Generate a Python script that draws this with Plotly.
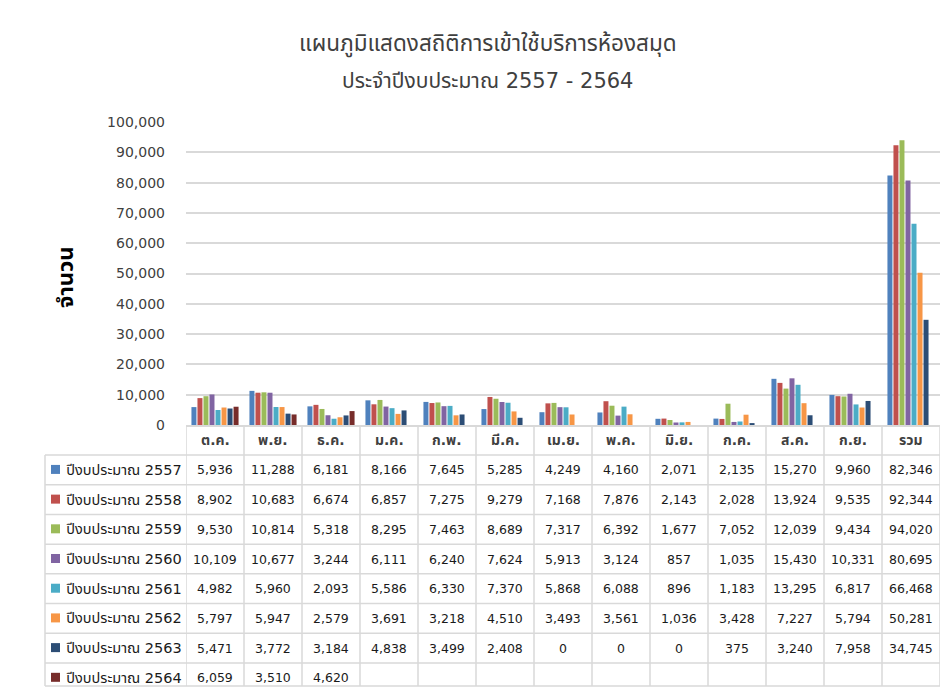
import plotly.graph_objects as go

W, H = 952, 694
# empirical vertical mapping of the captured picture: img_y = A + S * page_y
A, S = 7.9, 0.977

categories = ["ต.ค.", "พ.ย.", "ธ.ค.", "ม.ค.", "ก.พ.", "มี.ค.", "เม.ย.", "พ.ค.", "มิ.ย.", "ก.ค.", "ส.ค.", "ก.ย.", "รวม"]

series_names = ["ปีงบประมาณ 2557", "ปีงบประมาณ 2558", "ปีงบประมาณ 2559", "ปีงบประมาณ 2560",
                "ปีงบประมาณ 2561", "ปีงบประมาณ 2562", "ปีงบประมาณ 2563", "ปีงบประมาณ 2564"]

y2557 = [5936, 11288, 6181, 8166, 7645, 5285, 4249, 4160, 2071, 2135, 15270, 9960, 82346]
y2558 = [8902, 10683, 6674, 6857, 7275, 9279, 7168, 7876, 2143, 2028, 13924, 9535, 92344]
y2559 = [9530, 10814, 5318, 8295, 7463, 8689, 7317, 6392, 1677, 7052, 12039, 9434, 94020]
y2560 = [10109, 10677, 3244, 6111, 6240, 7624, 5913, 3124, 857, 1035, 15430, 10331, 80695]
y2561 = [4982, 5960, 2093, 5586, 6330, 7370, 5868, 6088, 896, 1183, 13295, 6817, 66468]
y2562 = [5797, 5947, 2579, 3691, 3218, 4510, 3493, 3561, 1036, 3428, 7227, 5794, 50281]
y2563 = [5471, 3772, 3184, 4838, 3499, 2408, 0, 0, 0, 375, 3240, 7958, 34745]
y2564 = [6059, 3510, 4620, None, None, None, None, None, None, None, None, None, None]

series_values = [y2557, y2558, y2559, y2560, y2561, y2562, y2563, y2564]
colors = ["#4F81BD", "#C0504D", "#9BBB59", "#8064A2", "#4BACC6", "#F79646", "#2C4D75", "#772C2A"]

title_lines = ["แผนภูมิแสดงสถิติการเข้าใช้บริการห้องสมุด", "ประจำปีงบประมาณ 2557 - 2564"]
y_title = "จำนวน"

FONT = "'DejaVu Sans', 'Noto Sans Thai', 'Noto Sans', sans-serif"
GRID = "#d9d9d9"

# target layout in picture pixels
px_left, px_right = 186, 940
py_top, py_bottom = 122, 425
tbl_left = 45
hdr_bottom = 455
row_h = 29.7

def px(x):
    return x / W

def py(y):
    page_y = (y - A) / S
    return max(0.0, 1 - page_y / H)

fig = go.Figure()
for name, vals, col in zip(series_names, series_values, colors):
    fig.add_trace(go.Bar(x=list(range(len(categories))), y=vals, name=name, marker_color=col,
                         marker_line_width=0, showlegend=False))

ncat = len(categories)
shapes = []
annotations = []

# vertical category dividers (through the x scale)
for i in range(ncat + 1):
    shapes.append(dict(type="line", xref="x", yref="paper", x0=i - 0.5, x1=i - 0.5,
                       y0=py(py_bottom), y1=0, line=dict(color=GRID, width=1.5)))
# left border of label column
shapes.append(dict(type="line", xref="paper", yref="paper", x0=px(tbl_left), x1=px(tbl_left),
                   y0=py(hdr_bottom), y1=0, line=dict(color=GRID, width=1.5)))
# horizontal row lines
for r in range(len(series_names) + 1):
    yy = hdr_bottom + r * row_h
    if yy > 693:
        continue
    shapes.append(dict(type="line", xref="paper", yref="paper", x0=px(tbl_left), x1=px(px_right),
                       y0=py(yy), y1=py(yy), line=dict(color=GRID, width=1.5)))

# header labels
for i, c in enumerate(categories):
    annotations.append(dict(text=f"<b>{c}</b>", x=i, xref="x", y=py((py_bottom + hdr_bottom) / 2),
                            yref="paper", showarrow=False, xanchor="center", yanchor="middle",
                            font=dict(size=14, color="#404040", family=FONT)))

# rows
for r, (name, vals, col) in enumerate(zip(series_names, series_values, colors)):
    yc = hdr_bottom + r * row_h + row_h / 2
    shapes.append(dict(type="rect", xref="paper", yref="paper", x0=px(51), x1=px(60),
                       y0=py(yc + 4), y1=py(yc - 5), fillcolor=col, line=dict(width=0)))
    annotations.append(dict(text=name, x=px(64), xref="paper", y=py(yc), yref="paper",
                            showarrow=False, xanchor="left", yanchor="middle",
                            font=dict(size=14.5, color="#1a1a1a", family=FONT)))
    for i, v in enumerate(vals):
        if v is None:
            continue
        annotations.append(dict(text=f"{v:,}", x=i, xref="x", y=py(yc), yref="paper",
                                showarrow=False, xanchor="center", yanchor="middle",
                                font=dict(size=12.5, color="#1a1a1a", family=FONT)))

for t, yy, sz in zip(title_lines, [44, 81], [22.5, 21]):
    annotations.append(dict(text=t, x=px(488), y=py(yy), xref="paper", yref="paper",
                            xanchor="center", yanchor="middle", showarrow=False,
                            font=dict(size=sz, color="#404040", family=FONT)))
annotations.append(dict(text=f"<b>{y_title}</b>", x=px(65), y=py(277), xref="paper", yref="paper",
                        textangle=-90, showarrow=False, xanchor="center", yanchor="middle",
                        font=dict(size=22, color="#000000", family=FONT)))

fig.update_layout(
    width=W, height=H,
    margin=dict(l=0, r=0, t=0, b=0),
    paper_bgcolor="white", plot_bgcolor="white",
    barmode="group", bargap=0.17, bargroupgap=0.17,
    font=dict(family=FONT, color="#404040"),
    xaxis=dict(domain=[px(px_left), px(px_right)], range=[-0.5, ncat - 0.5],
               showticklabels=False, showline=True, linecolor=GRID, linewidth=1.5,
               ticks="", showgrid=False, zeroline=False),
    yaxis=dict(domain=[py(py_bottom), py(py_top)],
               range=[0, 100000], dtick=10000, tickformat=",",
               showgrid=True, gridcolor=GRID, gridwidth=1.5,
               zeroline=False, showline=False, ticks="",
               tickfont=dict(size=14, color="#404040", family=FONT),
               ticklabelstandoff=20),
    shapes=shapes,
    annotations=annotations,
)

fig.write_html("out.html", config={"displayModeBar": False},
               post_script="document.body.style.margin='0';document.body.style.overflow='hidden';")
